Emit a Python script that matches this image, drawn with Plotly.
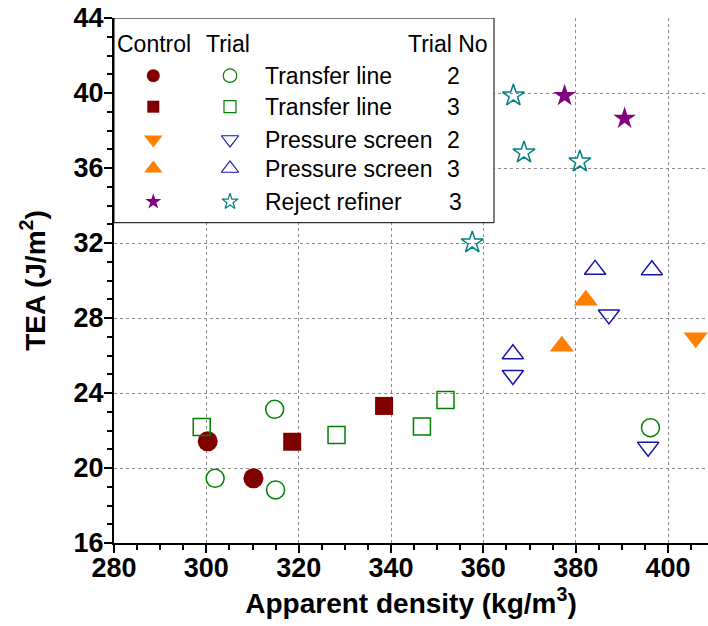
import plotly.graph_objects as go

# ---- data: TEA vs apparent density ----
ctrl_tl2_x = [300.3, 310.2]
ctrl_tl2_y = [21.42, 19.45]
ctrl_tl3_x = [318.6, 338.5]
ctrl_tl3_y = [21.40, 23.31]
ctrl_ps2_x = [406.0]
ctrl_ps2_y = [26.95]
ctrl_ps3_x = [377.0, 382.2]
ctrl_ps3_y = [26.50, 28.95]
ctrl_rr_x = [377.6, 390.6]
ctrl_rr_y = [39.86, 38.65]

trial_tl2_x = [301.9, 315.0, 314.8, 396.2]
trial_tl2_y = [19.45, 18.83, 23.13, 22.15]
trial_tl3_x = [299.0, 328.2, 346.7, 351.8]
trial_tl3_y = [22.19, 21.76, 22.22, 23.63]
trial_ps2_x = [366.4, 387.2, 395.7]
trial_ps2_y = [24.95, 28.18, 21.12]
trial_ps3_x = [366.4, 384.2, 396.5]
trial_ps3_y = [26.08, 30.58, 30.56]
trial_rr_x = [366.5, 368.8, 380.9, 357.6]
trial_rr_y = [39.86, 36.82, 36.34, 32.02]

legend_labels = ["Transfer line", "Transfer line", "Pressure screen",
                 "Pressure screen", "Reject refiner"]
legend_trial_no = ["2", "3", "2", "3", "3"]

x_ticks = [280, 300, 320, 340, 360, 380, 400]
y_ticks = [16, 20, 24, 28, 32, 36, 40, 44]

# ---- styles ----
MAROON = "#800000"
ORANGE = "#FF8000"
PURPLE = "#800080"
GREEN = "#008000"
BLUE = "#1414A8"
TEAL = "#008080"

W, H = 708, 626
L, R, T, B = 114, 0, 18, 83
X_RANGE = [280, 408.66]
Y_RANGE = [16, 44]

fig = go.Figure()


def filled(x, y, symbol, color, size):
    fig.add_trace(go.Scatter(
        x=x, y=y, mode="markers", showlegend=False, hoverinfo="skip",
        marker=dict(symbol=symbol, color=color, size=size, line=dict(width=0)),
    ))


def hollow(x, y, symbol, color, size):
    fig.add_trace(go.Scatter(
        x=x, y=y, mode="markers", showlegend=False, hoverinfo="skip",
        marker=dict(symbol=symbol + "-open", color=color, size=size,
                    line=dict(width=1.5, color=color)),
    ))


filled(ctrl_tl2_x, ctrl_tl2_y, "circle", MAROON, 20)
filled(ctrl_tl3_x, ctrl_tl3_y, "square", MAROON, 18)
filled(ctrl_ps2_x, ctrl_ps2_y, "triangle-down", ORANGE, 21)
filled(ctrl_ps3_x, ctrl_ps3_y, "triangle-up", ORANGE, 21)
filled(ctrl_rr_x, ctrl_rr_y, "star", PURPLE, 17)

hollow(trial_tl2_x, trial_tl2_y, "circle", GREEN, 18)
hollow(trial_tl3_x, trial_tl3_y, "square", GREEN, 17)
hollow(trial_ps2_x, trial_ps2_y, "triangle-down", BLUE, 18.5)
hollow(trial_ps3_x, trial_ps3_y, "triangle-up", BLUE, 18.5)
hollow(trial_rr_x, trial_rr_y, "star", TEAL, 16.5)

# ---- custom legend block (pixel-space overlay axes) ----
box_right_px, box_bottom_px = 494, 222.7
col_ctrl_px, col_trial_px = 153.3, 230
label_x_px, number_x_px = 263, 453
row_y_px = [75.7, 106.7, 139.5, 168.5, 201.7]
header_y_px = 44.3

ctrl_syms = [("circle", MAROON, 13), ("square", MAROON, 12),
             ("triangle-down", ORANGE, 16), ("triangle-up", ORANGE, 16),
             ("star", PURPLE, 12)]
trial_syms = [("circle", GREEN, 13.5), ("square", GREEN, 12),
              ("triangle-down", BLUE, 15), ("triangle-up", BLUE, 15),
              ("star", TEAL, 12)]

for (sym, col, sz), y in zip(ctrl_syms, row_y_px):
    fig.add_trace(go.Scatter(
        x=[col_ctrl_px], y=[y], xaxis="x3", yaxis="y3", mode="markers",
        showlegend=False, hoverinfo="skip",
        marker=dict(symbol=sym, color=col, size=sz, line=dict(width=0)),
    ))
for (sym, col, sz), y in zip(trial_syms, row_y_px):
    fig.add_trace(go.Scatter(
        x=[col_trial_px], y=[y], xaxis="x3", yaxis="y3", mode="markers",
        showlegend=False, hoverinfo="skip",
        marker=dict(symbol=sym + "-open", color=col, size=sz,
                    line=dict(width=1.2, color=col)),
    ))

LEG_FONT = dict(family="Liberation Sans, Arial, sans-serif", size=23, color="black")
ann = []
ann.append(dict(x=115, y=header_y_px, text="Control", xanchor="left"))
ann.append(dict(x=204, y=header_y_px, text="Trial", xanchor="left"))
ann.append(dict(x=490, y=header_y_px, text="Trial No", xanchor="right"))
for lab, num, y in zip(legend_labels, legend_trial_no, row_y_px):
    ann.append(dict(x=label_x_px, y=y, text=lab, xanchor="left"))
    nx = number_x_px + (2 if lab == "Reject refiner" else 0)
    ann.append(dict(x=nx, y=y, text=num, xanchor="center"))
for a in ann:
    a.update(xref="x3", yref="y3", yanchor="middle", showarrow=False, font=LEG_FONT)

# white legend panel sits over the grid but under the markers
px_per_x = (W - L - R) / (X_RANGE[1] - X_RANGE[0])
px_per_y = (H - T - B) / (Y_RANGE[1] - Y_RANGE[0])
fig.add_shape(
    type="rect", xref="x", yref="y", layer="between",
    x0=X_RANGE[0], x1=X_RANGE[0] + (box_right_px - L) / px_per_x,
    y0=Y_RANGE[1], y1=Y_RANGE[1] - (box_bottom_px - T) / px_per_y,
    fillcolor="white", line=dict(color="black", width=1),
)

TICK_FONT = dict(family="Liberation Sans, Arial, sans-serif", size=27,
                 color="black", weight="bold")
TITLE_FONT = dict(family="Liberation Sans, Arial, sans-serif", size=28,
                  color="black", weight="bold")

common = dict(linecolor="black", linewidth=2, zeroline=False,
              tickcolor="black", tickwidth=2)

fig.update_layout(
    width=W, height=H,
    margin=dict(l=L, r=R, t=T, b=B, pad=0),
    paper_bgcolor="white", plot_bgcolor="white",
    showlegend=False,
    annotations=ann,
    xaxis=dict(
        range=X_RANGE, tickmode="array", tickvals=x_ticks,
        ticktext=[str(v) for v in x_ticks],
        ticks="outside", ticklen=8, tickfont=TICK_FONT, ticklabelstandoff=-8,
        showgrid=True, gridcolor="#8a8a8a", griddash="dot", gridwidth=1,
        minor=dict(dtick=5, tick0=280, ticks="outside", ticklen=5,
                   tickcolor="black", tickwidth=1.5, showgrid=False),
        title=dict(text="Apparent density (kg/m<sup>3</sup>)", font=TITLE_FONT,
                   standoff=2),
        showline=True, **common,
    ),
    yaxis=dict(
        range=Y_RANGE, tickmode="array", tickvals=y_ticks,
        ticktext=[str(v) for v in y_ticks],
        ticks="outside", ticklen=8, tickfont=TICK_FONT, ticklabelstandoff=-5,
        showgrid=True, gridcolor="#8a8a8a", griddash="dot", gridwidth=1,
        minor=dict(dtick=1, tick0=16, ticks="outside", ticklen=5,
                   tickcolor="black", tickwidth=1.5, showgrid=False),
        title=dict(text="TEA (J/m<sup>2</sup>)", font=TITLE_FONT, standoff=20),
        showline=True, **common,
    ),
    xaxis2=dict(
        overlaying="x", side="top", anchor="y", range=X_RANGE,
        tickmode="array", tickvals=x_ticks, showticklabels=False,
        ticks="inside", ticklen=9, showgrid=False,
        minor=dict(dtick=5, tick0=280, ticks="inside", ticklen=5,
                   tickcolor="black", tickwidth=1.5, showgrid=False),
        showline=True, **common,
    ),
    yaxis2=dict(
        overlaying="y", side="right", anchor="x", range=Y_RANGE,
        tickmode="array", tickvals=y_ticks, showticklabels=False,
        ticks="inside", ticklen=9, showgrid=False,
        minor=dict(dtick=1, tick0=16, ticks="inside", ticklen=5,
                   tickcolor="black", tickwidth=1.5, showgrid=False),
        showline=False, **common,
    ),
    xaxis3=dict(overlaying="x", range=[L, W - R], visible=False, fixedrange=True),
    yaxis3=dict(overlaying="y", range=[H - B, T], visible=False, fixedrange=True),
)

fig.write_html("out.html")
